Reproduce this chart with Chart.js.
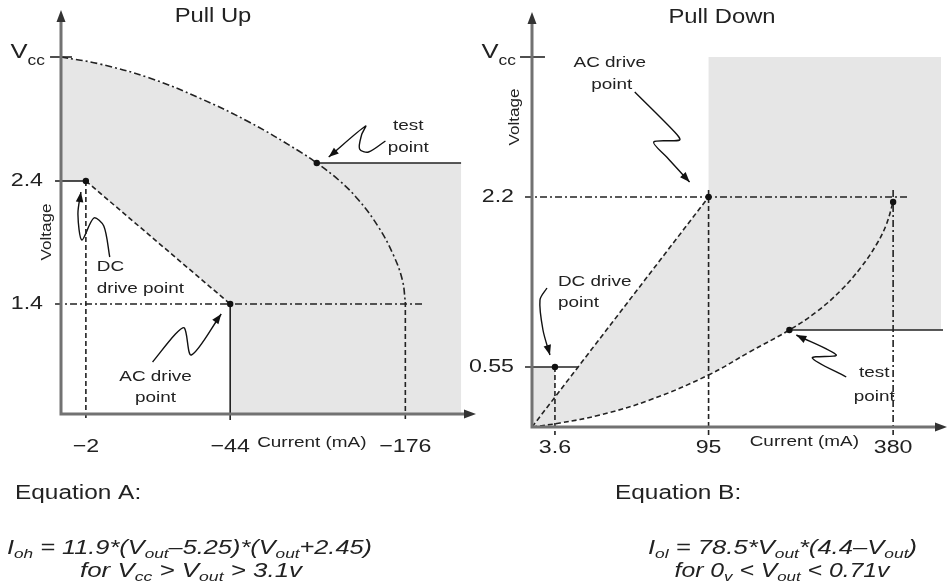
<!DOCTYPE html>
<html lang="en">
<head>
<meta charset="UTF-8">
<title>Pull Up / Pull Down drive points</title>
<script src="https://cdn.jsdelivr.net/npm/chart.js"></script>
<style>
  body { margin: 0; background: #fff; }
  #wrap { position: relative; width: 951px; height: 584px; }
  canvas { position: absolute; top: 0; }
  #pu { left: 0; }
  #pd { left: 455px; }
</style>
</head>
<body>
<div id="wrap">
  <canvas id="pu" width="480" height="584"></canvas>
  <canvas id="pd" width="496" height="584"></canvas>
</div>
<script>
// schematic units, measured from each panel's origin (axes are not to scale)

// Pull Up panel
const puXTicks = [25, 170, 346];
const puXLabels = ['−2', '−44', '−176'];
const puYTicks = [357, 233, 110];
const puYLabels = ['Vcc', '2.4', '1.4'];
const puCurve = [[0, 357], [39, 350], [89, 336], [139, 316], [189, 292], [239, 263], [257, 251],
                 [279, 234], [299, 214], [319, 187], [334, 159], [343, 134], [346, 112]];
const puTest = [257, 251];
const puDc = [25, 233];
const puAc = [170, 110];
const puEdge = 402;
const puLeadTest = [[326, 273], [309, 262], [300, 265], [302, 279], [306, 288], [269, 257]];
const puLeadDc = [[49, 157], [43, 188], [33, 196], [21, 174], [17, 200], [20, 222]];
const puLeadAc = [[92, 52], [115, 80], [124, 86], [131, 59], [161, 100]];

// Pull Down panel
const pdXTicks = [23, 177, 362];
const pdXLabels = ['3.6', '95', '380'];
const pdYTicks = [370, 230, 60];
const pdYLabels = ['Vcc', '2.2', '0.55'];
const pdCurve = [[0, 0], [28, 4], [68, 12], [118, 27], [177, 52], [218, 75], [258, 97],
                 [285, 115], [310, 137], [330, 160], [345, 182], [355, 202], [362, 225]];
const pdTest = [258, 97];
const pdDc = [23, 60];
const pdAc = [177, 230];
const pdEdge = 410;
const pdLeadAc = [[103, 335], [143, 295], [148, 287], [122, 285], [135, 270], [158, 245]];
const pdLeadDc = [[15, 139], [8, 127], [11, 97], [18, 72]];
const pdLeadTest = [[315, 50], [281, 69], [305, 72], [265, 92]];

const INK = '#222';
const AXIS = '#727272';
const SHADE = '#e6e6e6';
const FONT = '"Liberation Sans", Arial, Helvetica, sans-serif';
const STRETCH = 1.22;
const DASH = [5, 3];
const DASHDOT = [7, 3, 2, 3];

function richText(ctx, parts, x, y, o) {
    const size = o.size || 15.5;
    const style = o.italic ? 'italic ' : '';
    const fontOf = sub => style + (sub ? size * 0.68 : size) + 'px ' + FONT;
    let w = 0;
    parts.forEach(([s, sub]) => { ctx.font = fontOf(sub); w += ctx.measureText(s).width; });
    const sx = o.width ? o.width / w : STRETCH;
    const total = w * sx;
    const off = o.align === 'center' ? -total / 2 : o.align === 'right' ? -total : 0;
    ctx.save();
    ctx.translate(x, y);
    if (o.rotate) ctx.rotate(-Math.PI / 2);
    ctx.translate(off, 0);
    ctx.scale(sx, 1);
    ctx.fillStyle = INK;
    ctx.textBaseline = 'middle';
    ctx.textAlign = 'left';
    let cx = 0;
    parts.forEach(([s, sub]) => {
        ctx.font = fontOf(sub);
        ctx.fillText(s, cx, sub ? (o.subDy !== undefined ? o.subDy : size * 0.32) : 0);
        cx += ctx.measureText(s).width;
    });
    ctx.restore();
}

const plain = s => [[s, 0]];

function triangle(ctx, x, y, angle, len, half) {
    ctx.save();
    ctx.translate(x, y);
    ctx.rotate(angle);
    ctx.beginPath();
    ctx.moveTo(0, 0);
    ctx.lineTo(-len, -half);
    ctx.lineTo(-len, half);
    ctx.closePath();
    ctx.fill();
    ctx.restore();
}

function makeDecor(spec) {
    return {
        id: 'decor',
        afterDatasetsDraw(chart) {
            const { ctx, chartArea: a, scales: { x, y } } = chart;
            const px = v => x.getPixelForValue(v);
            const py = v => y.getPixelForValue(v);
            ctx.save();

            // axes with arrow heads
            ctx.strokeStyle = AXIS;
            ctx.lineWidth = 3;
            ctx.beginPath();
            ctx.moveTo(a.left, a.bottom + 1.5);
            ctx.lineTo(a.left, a.top + 8);
            ctx.moveTo(a.left - 1.5, a.bottom);
            ctx.lineTo(a.right - 8, a.bottom);
            ctx.stroke();
            ctx.fillStyle = '#333';
            triangle(ctx, a.left, a.top, -Math.PI / 2, 12, 4.5);
            triangle(ctx, a.right, a.bottom, 0, 12, 4.5);

            // tick labels
            spec.xTicks.forEach((v, i) =>
                richText(ctx, plain(spec.xLabels[i]), px(v), a.bottom + spec.xLabelDy, { size: 19, align: 'center' }));
            spec.yTicks.forEach((v, i) => {
                const s = spec.yLabels[i];
                if (s.startsWith('V')) {
                    richText(ctx, [['V', 0], [s.slice(1), 1]], a.left - spec.yLabelDx + 2, py(v) - 5,
                        { size: 21, align: 'right', subDy: 9 });
                } else {
                    richText(ctx, plain(s), a.left - spec.yLabelDx, py(v), { size: 19, align: 'right' });
                }
            });

            // annotation text
            spec.notes.forEach(n => richText(ctx, plain(n.t), px(n.x), py(n.y), n));

            // arrow heads on the leader lines
            ctx.fillStyle = '#111';
            chart.data.datasets.forEach((ds, i) => {
                if (!ds.arrow) return;
                const pts = chart.getDatasetMeta(i).data;
                const p = pts[pts.length - 1];
                const q = pts[pts.length - 2];
                let cx = p.cp1x, cy = p.cp1y;
                if (cx === undefined || Math.hypot(p.x - cx, p.y - cy) < 0.5) { cx = q.x; cy = q.y; }
                triangle(ctx, p.x, p.y, Math.atan2(p.y - cy, p.x - cx), 10, 3.8);
            });

            // titles and equations (canvas pixels)
            spec.text.forEach(t => richText(ctx, t.parts, t.x, t.y, t));
            ctx.restore();
        }
    };
}

const pts = arr => arr.map(([x, y]) => ({ x, y }));
const line = (arr, dash, extra) => Object.assign({
    data: pts(arr), borderColor: INK, borderWidth: 1.6, borderDash: dash,
    pointRadius: 0, fill: false, clip: false, tension: 0, order: 1
}, extra || {});
const shade = arr => line(arr, [], {
    fill: 'shape', backgroundColor: SHADE, borderColor: 'rgba(0,0,0,0)', borderWidth: 0, order: 10
});
const leader = arr => line(arr, [], { tension: 0.3, borderWidth: 1.4, borderColor: '#111', arrow: true });
const dots = arr => ({
    data: pts(arr), showLine: false, pointRadius: 3.2, pointBackgroundColor: '#111',
    pointBorderWidth: 0, clip: false, order: 0
});

function makeChart(id, datasets, padding, xMax, yMax, spec) {
    return new Chart(document.getElementById(id), {
        type: 'line',
        data: { datasets },
        options: {
            responsive: false,
            animation: false,
            events: [],
            layout: { padding },
            scales: {
                x: { type: 'linear', display: false, min: 0, max: xMax },
                y: { type: 'linear', display: false, min: 0, max: yMax }
            },
            plugins: { legend: { display: false }, tooltip: { enabled: false } }
        },
        plugins: [makeDecor(spec)]
    });
}

// ---- Pull Up
const puShade = [...puCurve.slice(0, 7), [puEdge, puTest[1]], [puEdge, 0], [puAc[0], 0], puAc, puDc, [0, puDc[1]]];
makeChart('pu', [
    shade(puShade),
    line(puCurve, DASHDOT, { tension: 0.4 }),
    line([[puXTicks[2], puCurve[puCurve.length - 1][1]], [puXTicks[2], -6]], DASH),
    line([puTest, [puEdge, puTest[1]]], []),
    line([[-11, puYTicks[0]], [11, puYTicks[0]]], []),
    line([[-6, puDc[1]], puDc], []),
    line([puDc, [puDc[0], -6]], DASH),
    line([puDc, puAc], DASH),
    line([[-6, puAc[1]], [364, puAc[1]]], DASHDOT),
    line([puAc, [puAc[0], -6]], []),
    leader(puLeadTest), leader(puLeadDc), leader(puLeadAc),
    dots([puTest, puDc, puAc])
], { left: 61, top: 10, right: 2, bottom: 170 }, 417, 404, {
    xTicks: puXTicks, xLabels: puXLabels, yTicks: puYTicks, yLabels: puYLabels,
    xLabelDy: 33, yLabelDx: 18,
    notes: [
        { t: 'test', x: 349, y: 288, align: 'center' },
        { t: 'point', x: 349, y: 266, align: 'center' },
        { t: 'DC', x: 36, y: 147 },
        { t: 'drive point', x: 36, y: 125 },
        { t: 'AC drive', x: 95, y: 37, align: 'center' },
        { t: 'point', x: 95, y: 16, align: 'center' },
        { t: 'Voltage', x: -14, y: 182, align: 'center', rotate: true, size: 14 },
        { t: 'Current (mA)', x: 252, y: -29, align: 'center' }
    ],
    text: [
        { parts: plain('Pull Up'), x: 213, y: 17, size: 19.5, align: 'center' },
        { parts: plain('Equation A:'), x: 15, y: 493, size: 20 },
        { parts: [['I', 0], ['oh', 1], [' = 11.9*(V', 0], ['out', 1], ['–5.25)*(V', 0], ['out', 1], ['+2.45)', 0]],
          x: 7, y: 548, size: 20, italic: true, width: 365 },
        { parts: [['for V', 0], ['cc', 1], [' > V', 0], ['out', 1], [' > 3.1v', 0]],
          x: 191, y: 571, size: 20, italic: true, width: 222, align: 'center' }
    ]
});

// ---- Pull Down (canvas starts at page x 455)
const pdShade = [[pdAc[0], pdYTicks[0]], [pdEdge, pdYTicks[0]], [pdEdge, pdTest[1]], ...pdCurve.slice(0, 7).reverse(), pdAc];
const pdShadeLow = [[0, 0], [pdDc[0], 0], pdDc, [0, pdDc[1]]];
makeChart('pd', [
    shade(pdShade), shade(pdShadeLow),
    line(pdCurve, DASH, { tension: 0.4 }),
    line([[-12, pdYTicks[0]], [13, pdYTicks[0]]], []),
    line([[-7, pdAc[1]], [378, pdAc[1]]], DASHDOT),
    line([[0, 0], pdAc], DASH),
    line([[pdAc[0], 237], [pdAc[0], -8]], DASH),
    line([[pdXTicks[2], 237], [pdXTicks[2], -8]], DASHDOT),
    line([pdTest, [pdEdge + 2, pdTest[1]]], []),
    line([[-7, pdDc[1]], [46, pdDc[1]]], []),
    line([pdDc, [pdDc[0], -8]], DASH),
    leader(pdLeadAc), leader(pdLeadDc), leader(pdLeadTest),
    dots([pdAc, pdTest, pdDc, pdCurve[pdCurve.length - 1]])
], { left: 77, top: 12, right: 3, bottom: 157 }, 416, 415, {
    xTicks: pdXTicks, xLabels: pdXLabels, yTicks: pdYTicks, yLabels: pdYLabels,
    xLabelDy: 21, yLabelDx: 18,
    notes: [
        { t: 'AC drive', x: 78, y: 364, align: 'center' },
        { t: 'point', x: 80, y: 342, align: 'center' },
        { t: 'DC drive', x: 26, y: 145 },
        { t: 'point', x: 26, y: 124 },
        { t: 'test', x: 343, y: 54, align: 'center' },
        { t: 'point', x: 343, y: 30, align: 'center' },
        { t: 'Voltage', x: -17, y: 310, align: 'center', rotate: true, size: 14 },
        { t: 'Current (mA)', x: 273, y: -15, align: 'center' }
    ],
    text: [
        { parts: plain('Pull Down'), x: 267, y: 18, size: 19.5, align: 'center' },
        { parts: plain('Equation B:'), x: 160, y: 493, size: 20 },
        { parts: [['I', 0], ['ol', 1], [' = 78.5*V', 0], ['out', 1], ['*(4.4–V', 0], ['out', 1], [')', 0]],
          x: 193, y: 548, size: 20, italic: true, width: 269 },
        { parts: [['for 0', 0], ['v', 1], [' < V', 0], ['out', 1], [' < 0.71v', 0]],
          x: 327, y: 571, size: 20, italic: true, width: 215, align: 'center' }
    ]
});
</script>
</body>
</html>
